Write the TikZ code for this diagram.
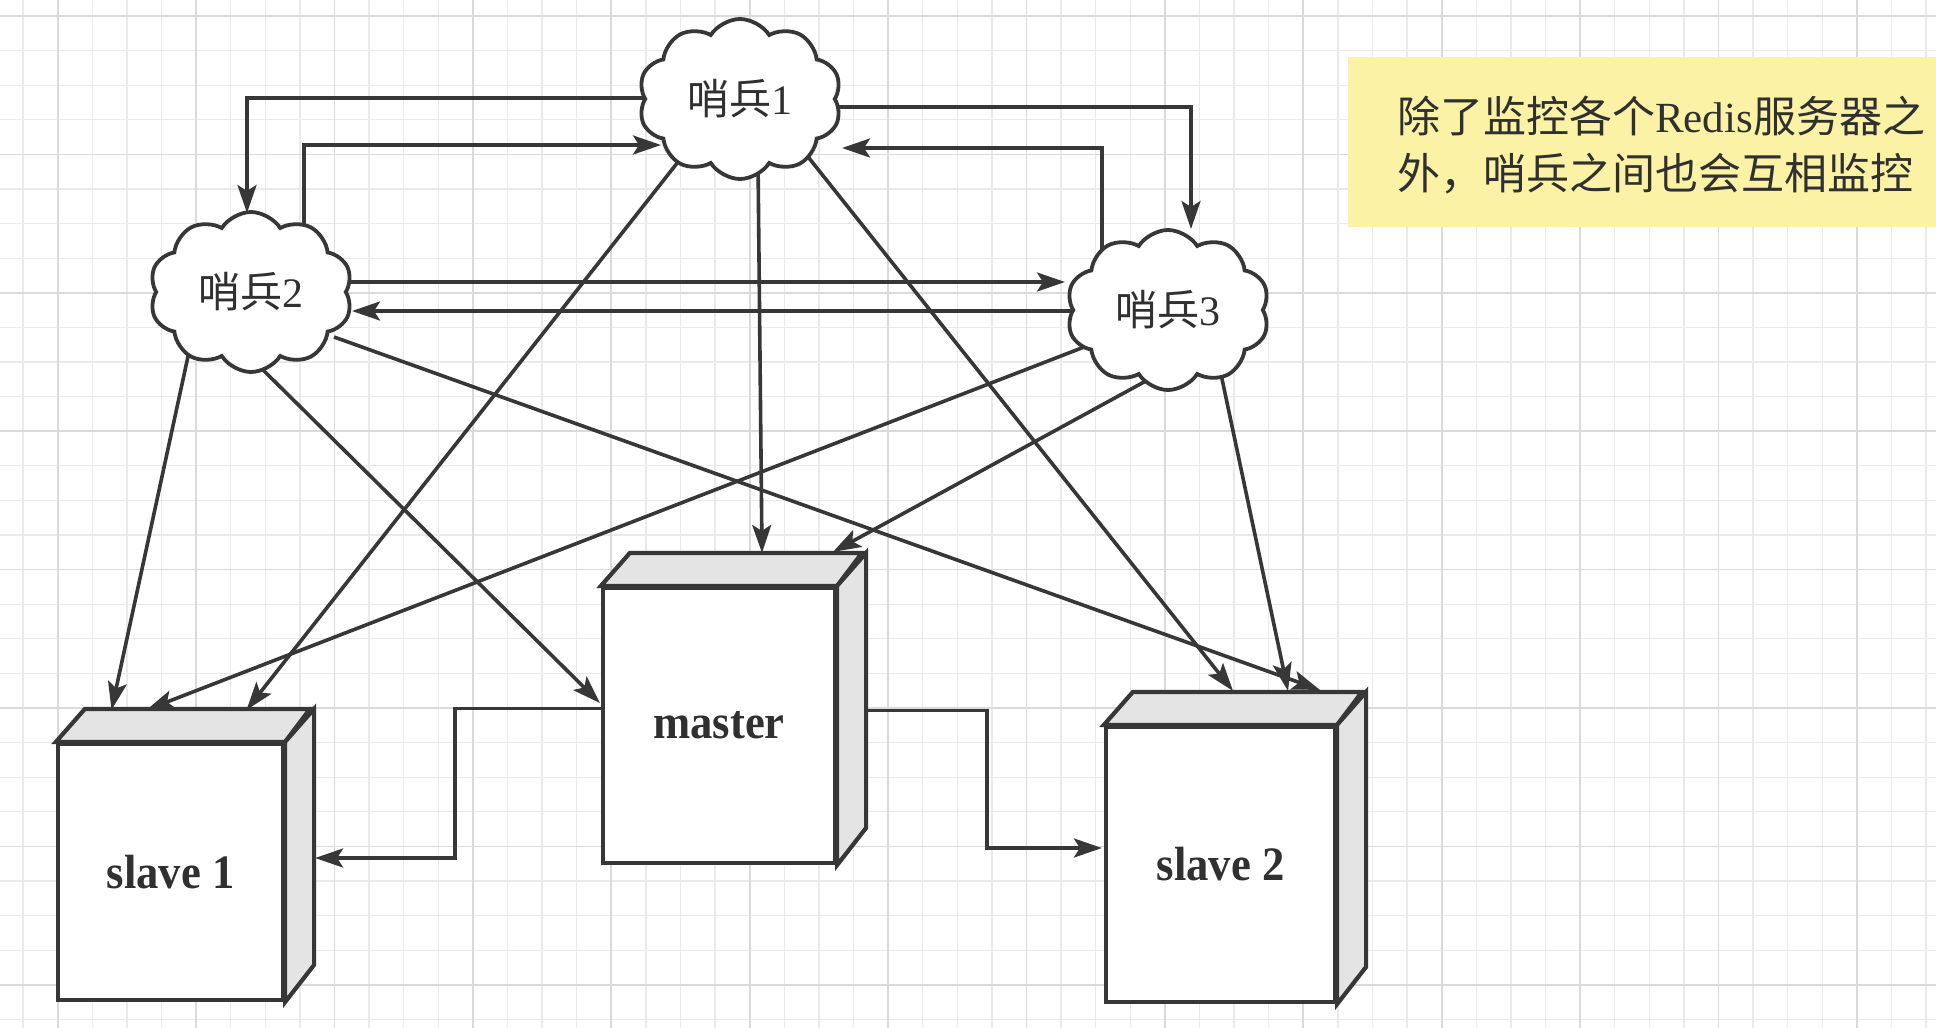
\documentclass[tikz,border=0pt]{standalone}
\usepackage{fontspec}
\usetikzlibrary{shapes.symbols,arrows.meta,calc}

\newfontfamily\cjkfont{Noto Sans CJK SC}
\newfontfamily\serfont{Liberation Serif}
\newfontfamily\boxfont{Liberation Serif}[FakeStretch=0.93]

\definecolor{ink}{RGB}{55,55,55}
\definecolor{textc}{RGB}{48,48,48}
\definecolor{gridminor}{RGB}{234,234,234}
\definecolor{gridmajor}{RGB}{218,218,218}
\definecolor{notefill}{RGB}{251,242,165}
\definecolor{facegray}{RGB}{228,228,228}

\pgfdeclarelayer{gridlayer}
\pgfdeclarelayer{wires}
\pgfsetlayers{gridlayer,wires,main}

\tikzset{
  sentinel/.style={cloud, cloud puffs=10, cloud puff arc=115, cloud ignores aspect,
    draw=ink, line width=3.8pt, fill=white, minimum width=203pt, minimum height=160pt,
    inner sep=0pt, text=textc, font=\fontsize{42}{50}\selectfont},
  srvfront/.style={draw=ink, line width=4.2pt, fill=white, inner sep=0pt,
    text=textc, font=\boxfont\bfseries\fontsize{48}{56}\selectfont},
  srvface/.style={draw=ink, line width=4.2pt, fill=facegray, line join=miter},
  wire/.style={draw=ink, line width=3.6pt},
  arrowwire/.style={wire, -{Stealth[length=28pt,width=19pt,inset=6pt]}},
  gminor/.style={draw=gridminor, line width=1.3pt},
  gmajor/.style={draw=gridmajor, line width=1.7pt}
}

% a server drawn as a box: front face node plus top and side faces
\newcommand\srvbox[5]{%
  \node[srvfront, minimum width=#3pt, minimum height=#4pt] (#1) at (#2) {#5};
  \draw[srvface] (#1.north west) -- ++(29,-33) -- ++(#3,0) -- (#1.north east) -- cycle;
  \draw[srvface] (#1.north east) -- ++(29,-33) -- ++(0,#4) -- (#1.south east) -- cycle;
}

\begin{document}
\begin{tikzpicture}[x=1pt,y=-1pt]
\useasboundingbox (0,0) rectangle (1936,1028);

% background grid and the yellow note
\begin{pgfonlayer}{gridlayer}
  \fill[white] (0,0) rectangle (1936,1028);
  \foreach \i in {0,...,56} \draw[gminor] ({23.1+34.6*\i},0) -- ++(0,1028);
  \foreach \j in {0,...,29} \draw[gminor] (0,{16+34.6*\j}) -- ++(1936,0);
  \foreach \i in {0,...,13} \draw[gmajor] ({57.7+138.4*\i},0) -- ++(0,1028);
  \foreach \j in {0,...,7} \draw[gmajor] (0,{16+138.4*\j}) -- ++(1936,0);
  \fill[notefill] (1348,57) rectangle (1936,227);
\end{pgfonlayer}

\node[anchor=west, align=left, inner sep=0pt, text=textc,
      font=\cjkfont\fontsize{43}{57}\selectfont] (note) at (1397,145)
  {除了监控各个{\serfont Redis}服务器之\\外，哨兵之间也会互相监控};

% sentinels
\node[sentinel] (s1) at (740,99)  {{\cjkfont 哨兵}{\serfont 1}};
\node[sentinel] (s2) at (251,292) {{\cjkfont 哨兵}{\serfont 2}};
\node[sentinel] (s3) at (1168,310) {{\cjkfont 哨兵}{\serfont 3}};

% servers
\srvbox{master}{719,725.5}{232}{275}{\raisebox{-3pt}{master}}
\srvbox{slave1}{170.5,872}{225}{256}{slave 1}
\srvbox{slave2}{1220.5,864.5}{229}{275}{slave 2}

\begin{pgfonlayer}{wires}
  % sentinels watching each other
  \draw[arrowwire] ($(s1)+(-60,-1)$) -| ($(s2)+(-4,-79)$);
  \draw[arrowwire] ($(s2)+(53,-30)$) |- ($(s1)+(-79,46)$);
  \draw[arrowwire] ($(s1)+(60,8)$) -| ($(s3)+(23,-81)$);
  \draw[arrowwire] ($(s3)+(-66,-40)$) |- ($(s1)+(102,49)$);
  \draw[arrowwire] ($(s2)+(60,-10)$) -- ($(s3)+(-103,-28)$);
  \draw[arrowwire] ($(s3)+(-60,1)$) -- ($(s2)+(101,19)$);

  % sentinels watching the servers
  \draw[arrowwire] ($(s1)+(-51,49)$) -- ($(slave1.north)+(76,-32)$);
  \draw[arrowwire] ($(s1)+(18,61)$) -- ($(master.north)+(43,-33)$);
  \draw[arrowwire] ($(s1)+(61,49)$) -- ($(slave2.north)+(12.5,-34)$);
  \draw[arrowwire] ($(s2)+(-59,46)$) -- ($(slave1.north)+(-59,-32)$);
  \draw[arrowwire] ($(s2)+(4,70)$) -- ($(master.west)+(-1,-22.5)$);
  \draw[arrowwire] ($(s2)+(83,45)$) -- ($(slave2.north)+(99.5,-35)$);
  \draw[arrowwire] ($(s3)+(-58,27)$) -- ($(slave1.north)+(-24,-32)$);
  \draw[arrowwire] ($(s3)+(-2,60)$) -- ($(master.north)+(114,-34)$);
  \draw[arrowwire] ($(s3)+(50,50)$) -- ($(slave2.north)+(67.5,-34)$);

  % replication from master
  \draw[arrowwire] ($(master.west)+(0,-17)$) -- ++(-146,0) |- ($(slave1.east)+(30,-14)$);
  \draw[arrowwire] ($(master.east)+(30,-15)$) -- ++(120,0) |- ($(slave2.west)+(-2,-16.5)$);
\end{pgfonlayer}
\end{tikzpicture}
\end{document}
